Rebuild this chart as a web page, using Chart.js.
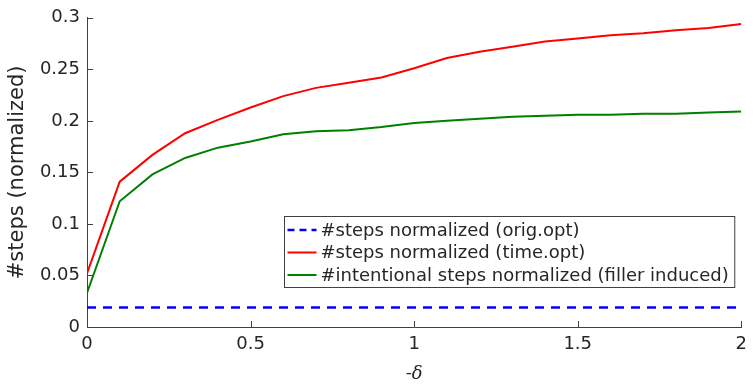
<!DOCTYPE html>
<html>
<head>
<meta charset="utf-8">
<script src="https://cdn.jsdelivr.net/npm/chart.js@4.4.1/dist/chart.umd.min.js"></script>
<style>
  html, body { margin: 0; padding: 0; background: #fff; }
  #wrap { width: 754px; height: 386px; }
</style>
</head>
<body>
<div id="wrap"><canvas id="chart"></canvas></div>
<script>
const deltas = [0, 0.1, 0.2, 0.3, 0.4, 0.5, 0.6, 0.7, 0.8, 0.9, 1.0,
  1.1, 1.2, 1.3, 1.4, 1.5, 1.6, 1.7, 1.8, 1.9, 2.0];
const stepsOrig = [0.019, 0.019, 0.019, 0.019, 0.019, 0.019, 0.019, 0.019, 0.019, 0.019, 0.019,
  0.019, 0.019, 0.019, 0.019, 0.019, 0.019, 0.019, 0.019, 0.019, 0.019];
const stepsTime = [0.052, 0.141, 0.167, 0.188, 0.201, 0.213, 0.224, 0.232, 0.237, 0.242, 0.251,
  0.261, 0.267, 0.272, 0.277, 0.280, 0.283, 0.285, 0.288, 0.290, 0.294];
const stepsFiller = [0.033, 0.122, 0.148, 0.164, 0.174, 0.180, 0.187, 0.190, 0.191, 0.194, 0.198,
  0.200, 0.202, 0.204, 0.205, 0.206, 0.206, 0.207, 0.207, 0.208, 0.209];
const yTicks = [0, 0.05, 0.1, 0.15, 0.2, 0.25, 0.3];
const xTicks = [0, 0.5, 1, 1.5, 2];

const axisColor = '#404040';
const textColor = '#262626';

function toPoints(values) {
  return values.map((v, i) => ({ x: deltas[i], y: v }));
}

// matlab-style tick marks pointing into the plot
const inwardTicks = {
  id: 'inwardTicks',
  afterDraw(chart) {
    const { ctx, chartArea } = chart;
    const x = chart.scales.x, y = chart.scales.y;
    ctx.save();
    ctx.strokeStyle = axisColor;
    ctx.lineWidth = 1;
    ctx.beginPath();
    xTicks.forEach((t) => {
      const px = Math.round(x.getPixelForValue(t)) + 0.5;
      ctx.moveTo(px, chartArea.bottom);
      ctx.lineTo(px, chartArea.bottom - 6);
    });
    yTicks.forEach((t) => {
      const py = Math.round(y.getPixelForValue(t)) + 0.5;
      ctx.moveTo(chartArea.left, py);
      ctx.lineTo(chartArea.left + 6, py);
    });
    ctx.stroke();
    ctx.restore();
  },
};

// boxed legend sitting inside the plot, lower right
const boxLegend = {
  id: 'boxLegend',
  afterDraw(chart) {
    const { ctx, chartArea } = chart;
    const sets = chart.data.datasets;
    ctx.save();
    ctx.font = '18px "DejaVu Sans"';
    const textW = Math.max(...sets.map((d) => ctx.measureText(d.label).width));
    const rowH = 22.5;
    const sampleW = 29;
    const w = 3 + sampleW + 4 + textW + 6;
    const h = 71;
    const right = chartArea.right - 7;
    const bottom = chartArea.bottom - 40;
    const left = Math.round(right - w) + 0.5;
    const top = Math.round(bottom - h) + 0.5;
    ctx.fillStyle = '#fff';
    ctx.fillRect(left, top, w, h);
    ctx.strokeStyle = axisColor;
    ctx.lineWidth = 1;
    ctx.strokeRect(left, top, w, h);
    sets.forEach((d, i) => {
      const cy = top + 13.5 + i * rowH;
      ctx.beginPath();
      ctx.strokeStyle = d.borderColor;
      ctx.lineWidth = d.borderWidth;
      ctx.setLineDash(d.borderDash ? [7, 5] : []);
      ctx.moveTo(left + 3, cy);
      ctx.lineTo(left + 3 + sampleW, cy);
      ctx.stroke();
      ctx.setLineDash([]);
      ctx.fillStyle = textColor;
      ctx.textBaseline = 'middle';
      ctx.textAlign = 'left';
      ctx.fillText(d.label, left + 3 + sampleW + 4, cy + 1);
    });
    ctx.restore();
  },
};

new Chart(document.getElementById('chart'), {
  type: 'line',
  data: {
    datasets: [
      {
        label: '#steps normalized (orig.opt)',
        data: toPoints(stepsOrig),
        borderColor: '#0000ff',
        borderWidth: 2.5,
        borderDash: [9, 7],
      },
      {
        label: '#steps normalized (time.opt)',
        data: toPoints(stepsTime),
        borderColor: '#ff0000',
        borderWidth: 2,
      },
      {
        label: '#intentional steps normalized (filler induced)',
        data: toPoints(stepsFiller),
        borderColor: '#008000',
        borderWidth: 2,
      },
    ],
  },
  options: {
    responsive: true,
    maintainAspectRatio: false,
    animation: false,
    layout: { padding: { top: 16, right: 6, left: 0, bottom: 0 } },
    elements: {
      point: { radius: 0 },
      line: { tension: 0, fill: false },
    },
    plugins: {
      legend: { display: false },
      tooltip: { enabled: false },
    },
    scales: {
      x: {
        type: 'linear',
        min: 0,
        max: 2,
        afterFit: (scale) => { scale.height = 59; },
        afterBuildTicks: (scale) => { scale.ticks = xTicks.map((v) => ({ value: v })); },
        grid: { drawOnChartArea: false, drawTicks: false },
        border: { display: true, color: axisColor, width: 1 },
        ticks: {
          padding: 7,
          color: textColor,
          font: { family: 'DejaVu Sans', size: 18 },
          callback: (v) => String(+v.toFixed(2)),
        },
        title: {
          display: true,
          text: '-δ',
          color: textColor,
          font: { family: 'DejaVu Serif', size: 18, style: 'italic' },
          padding: { top: 0, bottom: 1 },
        },
      },
      y: {
        type: 'linear',
        min: 0,
        max: 0.3,
        afterFit: (scale) => { scale.width = 87; },
        afterBuildTicks: (scale) => { scale.ticks = yTicks.map((v) => ({ value: v })); },
        grid: { drawOnChartArea: false, drawTicks: false },
        border: { display: true, color: axisColor, width: 1 },
        ticks: {
          padding: 7,
          color: textColor,
          font: { family: 'DejaVu Sans', size: 18 },
          callback: (v) => String(+v.toFixed(2)),
        },
        title: {
          display: true,
          text: '#steps (normalized)',
          color: textColor,
          font: { family: 'DejaVu Sans', size: 21 },
          padding: { top: 5, bottom: 0 },
        },
      },
    },
  },
  plugins: [inwardTicks, boxLegend],
});
</script>
</body>
</html>
